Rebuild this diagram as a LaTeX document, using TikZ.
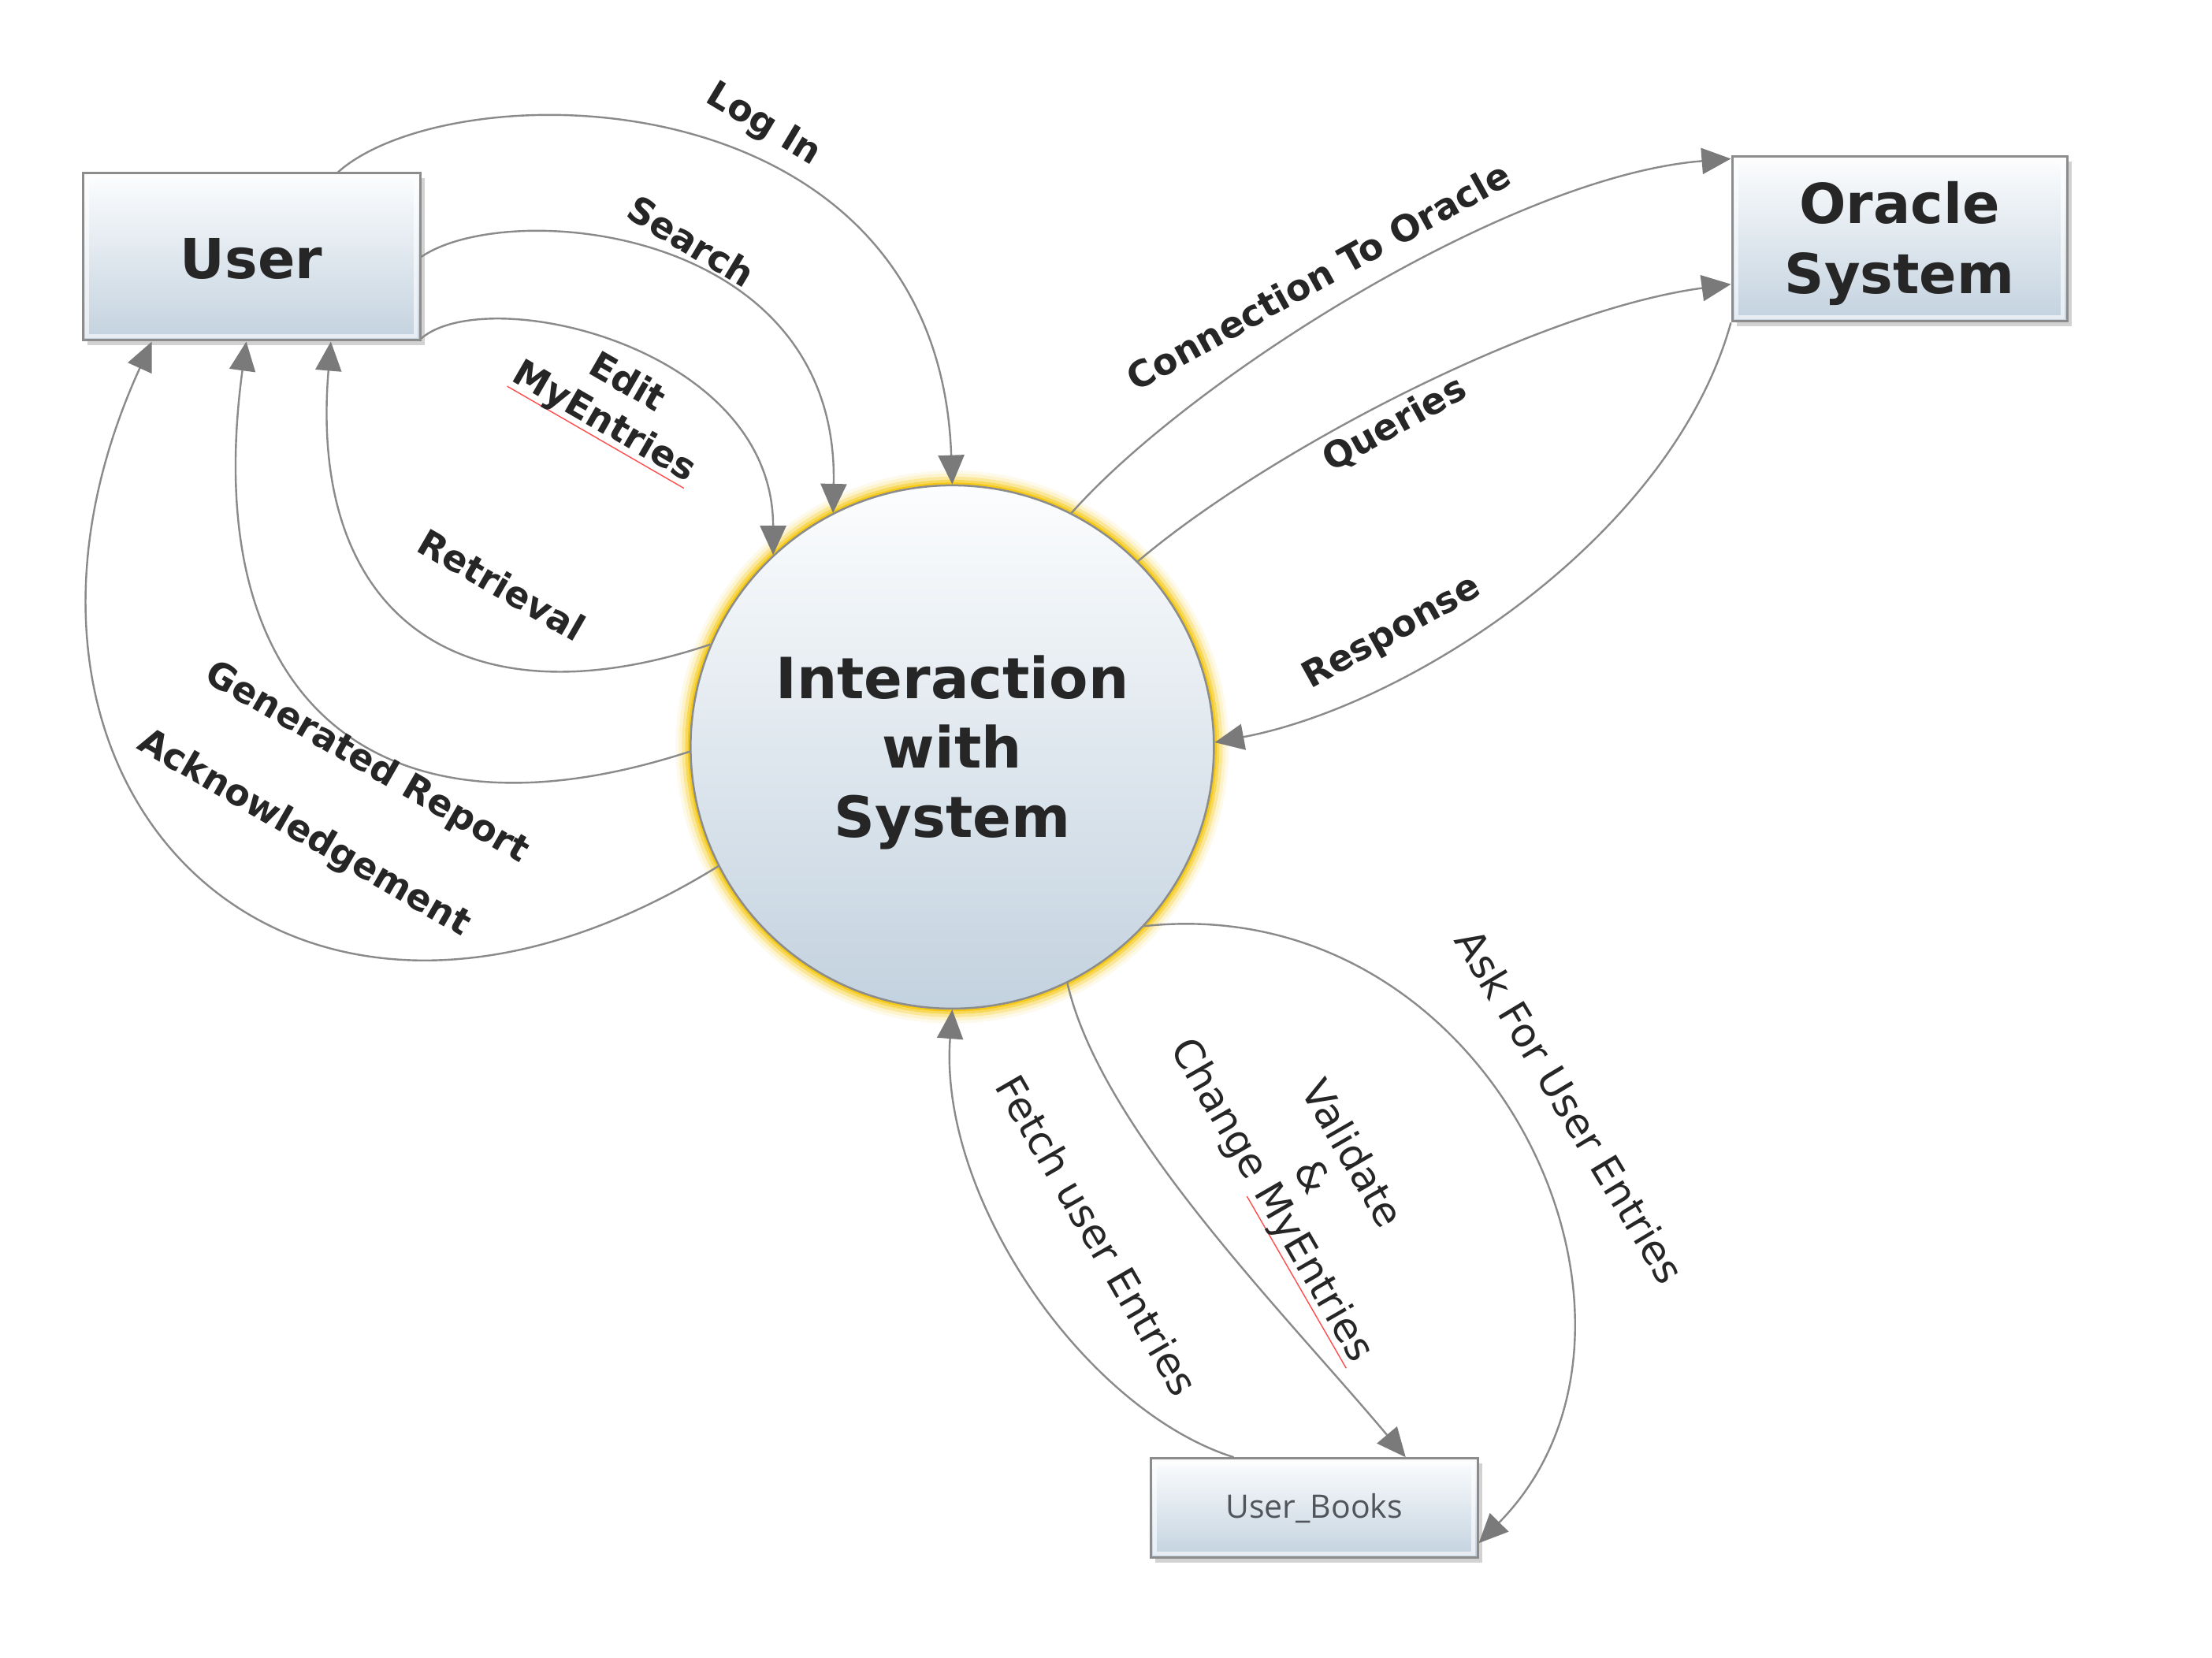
\documentclass[tikz,border=0pt]{standalone}
\usepackage{fontspec}
\setmainfont{DejaVu Sans}
\newfontfamily\booksfont{Open Sans}
\usetikzlibrary{arrows.meta,shadows,calc}
\definecolor{linec}{HTML}{8A8A8A}
\definecolor{tipc}{HTML}{7A7A7A}
\definecolor{txtc}{HTML}{262626}
\definecolor{boxtop}{HTML}{FCFDFE}
\definecolor{boxbot}{HTML}{C3D2DF}
\definecolor{boxedge}{HTML}{8C8C8C}
\definecolor{glowc}{HTML}{F5C400}
\definecolor{bookstxt}{HTML}{50555C}
\newcommand\spellul[1]{\setbox0\hbox{#1}\rlap{\textcolor{red!70}{\rule[-0.2em]{\wd0}{1.4pt}}}\box0}
\tikzset{
  entity/.style={rectangle, draw=boxedge, line width=3pt, top color=boxtop, bottom color=boxbot,
    drop shadow={shadow xshift=6pt, shadow yshift=-6pt, opacity=0.35},
    font=\fontsize{70}{89}\selectfont\bfseries, text=txtc, align=center, inner sep=0pt},
  etext/.style={font=\fontsize{70}{89}\selectfont\bfseries, text=txtc, align=center, inner sep=0pt},
  process/.style={circle, draw=boxedge, line width=2.5pt, top color=boxtop, bottom color=boxbot,
    minimum size=664pt, inner sep=0pt},
  ptext/.style={font=\fontsize{72}{88}\selectfont\bfseries, text=txtc, align=center, inner sep=0pt},
  flow/.style={draw=linec, line width=2.4pt, -{Triangle[length=37pt,width=33pt,color=tipc]}},
  lbl/.style={font=\fontsize{46}{57}\selectfont\bfseries, text=txtc, align=center, inner sep=0pt},
  lblr/.style={font=\fontsize{51}{58}\selectfont, text=txtc, align=center, inner sep=0pt},
  bevel/.style={draw=white, line width=5pt, opacity=0.6},
}
\begin{document}
\begin{tikzpicture}[x=1.7902pt, y=-1.7902pt]
\path[use as bounding box, fill=white] (0,0) rectangle (1568,1175);

% glow around process
\coordinate (cc) at (675,529.5);
\draw[glowc, opacity=0.08, line width=4pt] (cc) circle (349pt);
\draw[glowc, opacity=0.2, line width=4pt] (cc) circle (345pt);
\draw[glowc, opacity=0.4, line width=4pt] (cc) circle (341pt);
\draw[glowc, opacity=0.65, line width=4pt] (cc) circle (337pt);
\draw[glowc, opacity=0.9, line width=3pt] (cc) circle (334pt);

\node[process] (circ) at (cc) {};
\node[ptext] (circtxt) at ([yshift=-7pt]circ.center) {Interaction\\with\\System};
\node[entity, minimum width=428pt, minimum height=212pt] (user) at (178.2,182.1) {};
\node[etext] (usertxt) at ([yshift=-2pt]user.center) {User};
\node[entity, minimum width=425pt, minimum height=209pt] (oracle) at (1346.5,169.5) {};
\node[etext] (oracletxt) at ([yshift=-6pt]oracle.center) {Oracle\\System};
\node[entity, minimum width=415pt, minimum height=126pt, font=\booksfont\fontsize{41}{50}\selectfont, text=bookstxt] (books) at (931.5,1069) {User\_Books};

% inner bevel highlight of the boxes
\draw[bevel] ([shift={(7pt,-7pt)}]user.north west) rectangle ([shift={(-7pt,7pt)}]user.south east);
\draw[bevel] ([shift={(7pt,-7pt)}]oracle.north west) rectangle ([shift={(-7pt,7pt)}]oracle.south east);
\draw[bevel] ([shift={(7pt,-7pt)}]books.north west) rectangle ([shift={(-7pt,7pt)}]books.south east);

% user side
\draw[flow] ($(user.north west)!0.755!(user.north east)$) .. controls (320,50) and (665,50) .. (circ.90);
\draw[flow] (user.east) .. controls (360,140) and (595,160) .. (circ.117);
\draw[flow] ([yshift=4pt]user.south east) .. controls (345,200) and (548,245) .. (circ.133);
\draw[flow] (circ.157) .. controls (330,515) and (218,440) .. ($(user.south west)!0.734!(user.south east)$);
\draw[flow] (circ.181) .. controls (267,605) and (140,497) .. ($(user.south west)!0.485!(user.south east)$);
\draw[flow] (circ.207) .. controls (200,805) and (-35,555) .. ($(user.south west)!0.207!(user.south east)$);

% oracle side
\draw[flow] (circ.63) .. controls (843.5,269) and (1070,125) .. ([yshift=-4pt]oracle.north west);
\draw[flow] (circ.45) .. controls (897.5,320.6) and (1089,220) .. ($(oracle.north west)!0.77!(oracle.south west)$);
\draw[flow] (oracle.south west) .. controls (1185,380) and (1000,500) .. (circ.1);

% books side
\draw[flow] ($(books.north west)!0.256!(books.north east)$) .. controls (770,1000) and (665,850) .. (circ.270);
\draw[flow] (circ.296) .. controls (780,800) and (910,930) .. ($(books.north west)!0.778!(books.north east)$);
\draw[flow] (circ.317) .. controls (1060,630) and (1200,940) .. ([yshift=20pt]books.south east);

% labels
\node[lbl, rotate=-31] (lLogIn) at (541,89) {Log In};
\node[lbl, rotate=-31] (lSearch) at (490,171) {Search};
\node[lbl, rotate=-30] (lEdit) at (436,286) {Edit\\\spellul{MyEntries}};
\node[lbl, rotate=-30] (lRetr) at (355.7,414.5) {Retrieval};
\node[lbl, rotate=-30] (lGen) at (260,541) {Generated Report};
\node[lbl, rotate=-30] (lAck) at (215.3,591) {Acknowledgement};
\node[lbl, rotate=29] (lConn) at (934.5,195.5) {Connection To Oracle};
\node[lbl, rotate=29] (lQ) at (988.6,301) {Queries};
\node[lbl, rotate=29] (lResp) at (987,449) {Response};
\node[lblr, rotate=-60] (lFetch) at (778,875.6) {Fetch user Entries};
\node[lblr, rotate=-60] (lVal) at (929,835) {Validate\\\&\\Change \spellul{MyEntries}};
\node[lblr, rotate=-59] (lAsk) at (1113,784) {Ask For User Entries};
\end{tikzpicture}
\end{document}
